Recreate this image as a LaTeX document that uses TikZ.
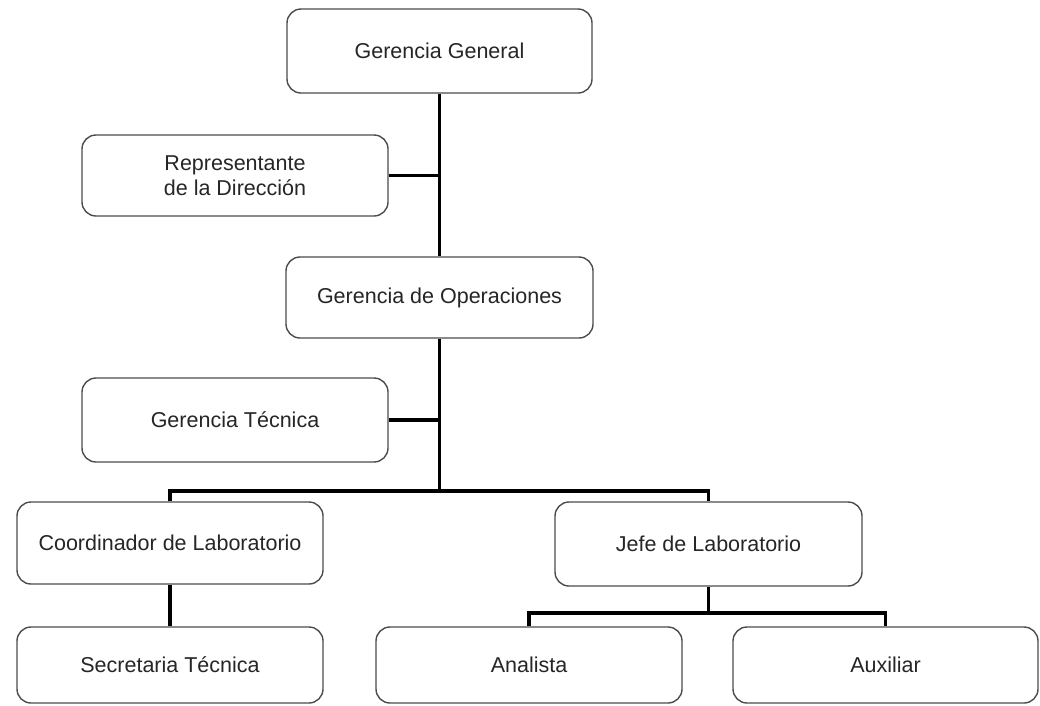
\documentclass[tikz,border=0pt]{standalone}
\usepackage{fontspec}
\setmainfont{Liberation Sans}
\begin{document}
\begin{tikzpicture}[x=1pt,y=-1pt,
  box/.style={draw=black!70, line width=1.4pt, rounded corners=14pt, fill=white,
    minimum width=306pt, minimum height=82pt, inner sep=0pt, align=center,
    font=\fontsize{21.5}{25}\selectfont, text=black!85},
  link/.style={line width=3.5pt, black}]
\useasboundingbox (0,0) rectangle (1040,705);
\node[box, minimum width=305pt, minimum height=84pt] (gg) at (439.5,51) {Gerencia General};
\node[box, minimum height=81pt] (rep) at (235,175.5) {Representante\\de la Dirección};
\node[box, minimum width=307pt, minimum height=81pt] (go) at (439.5,297.5) {Gerencia de Operaciones};
\node[box, minimum height=84pt] (gt) at (235,420) {Gerencia Técnica};
\node[box, minimum height=82pt] (coord) at (170,543) {Coordinador de Laboratorio};
\node[box, minimum width=307pt, minimum height=84pt] (jefe) at (708.5,544) {Jefe de Laboratorio};
\node[box, minimum height=76pt] (sec) at (170,665) {Secretaria Técnica};
\node[box, minimum height=76pt] (ana) at (529,665) {Analista};
\node[box, minimum width=305pt, minimum height=76pt] (aux) at (885.5,665) {Auxiliar};
\coordinate (b1) at (439.5,491);
\coordinate (b2) at (708.5,613);
\draw[link] (gg.south) -- (go.north);
\draw[link] (rep.east) -- (rep.east -| gg.south);
\draw[link] (go.south) -- (b1);
\draw[link] (gt.east) -- (gt.east -| go.south);
\draw[link] (coord.north) |- (b1) -| (jefe.north);
\draw[link] (coord.south) -- (sec.north);
\draw[link] (jefe.south) -- (b2);
\draw[link] (ana.north) |- (b2) -| (aux.north);
\end{tikzpicture}
\end{document}
